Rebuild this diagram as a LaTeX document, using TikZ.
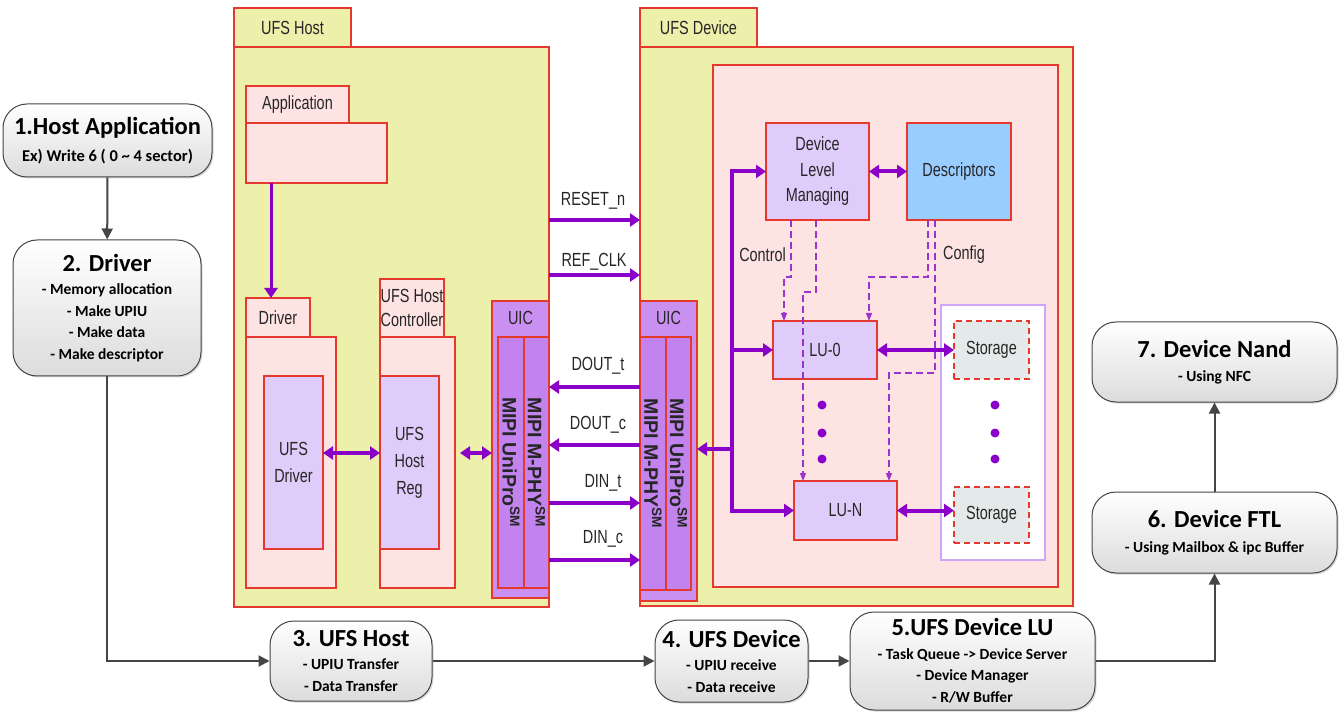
\documentclass[tikz,border=0pt]{standalone}
\usepackage{fontspec}
\setmainfont{Carlito}
\newfontfamily\nar[FakeStretch=0.76]{Liberation Sans}
\newfontfamily\widefam{Liberation Sans}
\usetikzlibrary{arrows.meta,shadows,calc}
\definecolor{ylw}{HTML}{EDF0AA}
\definecolor{rd}{HTML}{E4392C}
\definecolor{pnk}{HTML}{FDE3E1}
\definecolor{lpur}{HTML}{E0CCFA}
\definecolor{uicout}{HTML}{C990F2}
\definecolor{uicin}{HTML}{C283EE}
\definecolor{blu}{HTML}{99CCFF}
\definecolor{stg}{HTML}{E4EAE9}
\definecolor{arw}{HTML}{8A00C8}
\definecolor{dsh}{HTML}{9B33D0}
\definecolor{regb}{HTML}{CFA6F5}
\definecolor{txt}{HTML}{262626}
\definecolor{fgray}{HTML}{454545}
\definecolor{boxbot}{HTML}{DCDCDC}
\newcommand\dgmfont{\nar\fontsize{19}{26}\selectfont}
\newcommand\mipifont{\widefam\bfseries\fontsize{19.5}{19.5}\selectfont}
\newcommand\flowtitle{\bfseries\fontsize{24.5}{27}\selectfont}
\newcommand\flowsub{\bfseries\fontsize{15.5}{21.5}\selectfont}
\tikzset{
  fr/.style={draw=rd, line width=1.1pt, inner sep=0pt, outer sep=0pt, anchor=north west, font=\dgmfont, text=txt, align=center},
  stgs/.style={fill=stg, draw=rd, line width=1.5pt, dash pattern=on 6pt off 4pt},
  mipi/.style={rotate=-90, font=\mipifont, text=txt, inner sep=0pt},
  lbl/.style={font=\dgmfont, text=txt, inner sep=0pt},
  fbox/.style={draw=fgray, line width=1pt, rounded corners=24pt, top color=white, bottom color=boxbot,
    drop shadow={shadow xshift=1.5pt, shadow yshift=-1.5pt, opacity=0.3}, align=center, inner sep=0pt, font=\flowsub, text=black},
  parrow/.style={draw=arw, line width=4pt, -{Triangle[length=10pt,width=13pt]}},
  pline/.style={draw=arw, line width=4pt, line cap=rect},
  pdbl/.style={draw=arw, line width=4pt, {Triangle[length=10pt,width=13pt]}-{Triangle[length=10pt,width=13pt]}},
  dline/.style={draw=dsh, line width=1.3pt, dash pattern=on 7pt off 4pt, -{Triangle[length=8pt,width=6pt]}},
  farrow/.style={draw=fgray, line width=2pt, -{Triangle[length=11pt,width=11pt]}},
  dotn/.style={circle, fill=arw, inner sep=0pt, minimum size=9pt}
}
\begin{document}
\begin{tikzpicture}[x=1pt,y=-1pt]
\useasboundingbox (0,0) rectangle (1342,719);

% ---------- UFS Host ----------
\node[fr, fill=ylw, minimum width=315pt, minimum height=560pt] (hbody) at (234,47) {};
\node[fr, fill=ylw, minimum width=117pt, minimum height=39pt] (htab) at (234,8) {UFS Host};
\node[fr, fill=pnk, minimum width=103pt, minimum height=37pt] (apptab) at (246,86) {Application};
\node[fr, fill=pnk, minimum width=141pt, minimum height=60pt] (appbody) at (246,123) {};
\node[fr, fill=pnk, minimum width=64pt, minimum height=39pt] (drvtab) at (246,298) {Driver};
\node[fr, fill=pnk, minimum width=90pt, minimum height=251pt] (drvbody) at (246,337) {};
\node[fr, fill=lpur, minimum width=59pt, minimum height=173pt, font=\nar\fontsize{19}{27}\selectfont] (ufsdrv) at (264,376) {UFS\\Driver};
\node[fr, fill=pnk, minimum width=64pt, minimum height=58pt, font=\nar\fontsize{19}{24}\selectfont] (hctab) at (380,279) {UFS Host\\Controller};
\node[fr, fill=pnk, minimum width=75pt, minimum height=251pt] (hcbody) at (380,337) {};
\node[fr, fill=lpur, minimum width=59pt, minimum height=173pt, font=\nar\fontsize{19}{27}\selectfont] (hreg) at (380,376) {UFS\\Host\\Reg};
\node[fr, fill=uicout, minimum width=57pt, minimum height=297pt] (uich) at (492,301) {};
\node[lbl] (uichl) at (520.5,318) {UIC};
\node[fr, fill=uicin, minimum width=26pt, minimum height=251pt] (hc1) at (498,337) {};
\node[fr, fill=uicin, minimum width=25pt, minimum height=251pt] (hc2) at (524,337) {};
\node[mipi] (hc1t) at (hc1.center) {MIPI UniPro\textsuperscript{SM}};
\node[mipi] (hc2t) at (hc2.center) {MIPI M-PHY\textsuperscript{SM}};

% ---------- UFS Device ----------
\node[fr, fill=ylw, minimum width=433pt, minimum height=559pt] (dbody) at (640,47) {};
\node[fr, fill=ylw, minimum width=117pt, minimum height=39pt] (dtab) at (640,8) {UFS Device};
\node[fr, fill=pnk, minimum width=345pt, minimum height=522pt] (dinner) at (713,65) {};
\node[fr, fill=lpur, minimum width=103pt, minimum height=97pt, font=\nar\fontsize{19}{25.5}\selectfont] (dlm) at (766,123) {Device\\Level\\Managing};
\node[fr, fill=blu, minimum width=104pt, minimum height=97pt] (desc) at (907,123) {Descriptors};
\node[fr, draw=regb, fill=white, minimum width=104pt, minimum height=255pt] (streg) at (941,305) {};
\node[fr, fill=lpur, minimum width=104pt, minimum height=58pt] (lu0) at (773,321) {LU-0};
\node[fr, fill=lpur, minimum width=103pt, minimum height=59pt] (lun) at (794,481) {LU-N};
\node[fr, stgs, minimum width=75pt, minimum height=58pt] (st1) at (954,321) {Storage};
\node[fr, stgs, minimum width=75pt, minimum height=56pt] (st2) at (954,487) {Storage};
\node[fr, fill=uicout, minimum width=57pt, minimum height=300pt] (uicd) at (640,301) {};
\node[lbl] (uicdl) at (668.5,318) {UIC};
\node[fr, fill=uicin, minimum width=26pt, minimum height=253pt] (dc1) at (640,337) {};
\node[fr, fill=uicin, minimum width=25pt, minimum height=253pt] (dc2) at (666,337) {};
\node[mipi] (dc1t) at (dc1.center) {MIPI M-PHY\textsuperscript{SM}};
\node[mipi] (dc2t) at (dc2.center) {MIPI UniPro\textsuperscript{SM}};

% dots
\node[dotn] (da1) at (822,405) {};
\node[dotn] (da2) at (822,433) {};
\node[dotn] (da3) at (822,459) {};
\node[dotn] (db1) at (995,405) {};
\node[dotn] (db2) at (995,433) {};
\node[dotn] (db3) at (995,459) {};

% dashed control / config
\draw[dline] ([xshift=25pt]dlm.south west) -- ++(0,57) -- ++(-7,0) -- ([xshift=11pt]lu0.north west);
\draw[dline] ([xshift=50pt]dlm.south west) -- ++(0,72) -- ++(-13,0) -- ([xshift=9pt]lun.north west);
\draw[dline] ([xshift=21pt]desc.south west) -- ++(0,57) -- ++(-59,0) -- ([xshift=96pt]lu0.north west);
\draw[dline] ([xshift=28pt]desc.south west) -- ++(0,153) -- ++(-46,0) -- ([xshift=95pt]lun.north west);
\node[lbl, anchor=east] (ctl) at (786,255) {Control};
\node[lbl, anchor=west] (cfg) at (943,255) {Config};

% device bus
\coordinate (bt) at (732,171.5);
\coordinate (bb) at (732,510.5);
\coordinate (bm) at (732,449);
\draw[pline] (bt) -- (bb);
\draw[parrow] (bt) -- (dlm.west);
\draw[parrow] (bt |- lu0.west) -- (lu0.west);
\draw[parrow] (bb) -- (lun.west);
\draw[parrow] (bm) -- (uicd.east |- bm);
\draw[pdbl] (dlm) -- (desc);
\draw[pdbl] (lu0) -- (st1);
\draw[pdbl] (lun.east) -- (lun.east -| st2.west);

% host internal arrows
\coordinate (hy) at (0,453);
\draw[parrow, line width=3pt] ([xshift=25pt]appbody.south west) -- ([xshift=25pt]drvtab.north west);
\draw[pdbl] (ufsdrv.east |- hy) -- (hreg.west |- hy);
\draw[pdbl] ([xshift=5pt]hcbody.east |- hy) -- (uich.west |- hy);

% signals
\coordinate (yres) at (0,220);
\coordinate (yclk) at (0,275);
\coordinate (ydot) at (0,387);
\coordinate (ydoc) at (0,445);
\coordinate (ydit) at (0,503);
\coordinate (ydic) at (0,560);
\draw[parrow] (hbody.east |- yres) -- (dbody.west |- yres);
\draw[parrow] (hbody.east |- yclk) -- (dbody.west |- yclk);
\draw[parrow] (uicd.west |- ydot) -- (uich.east |- ydot);
\draw[parrow] (uicd.west |- ydoc) -- (uich.east |- ydoc);
\draw[parrow] (uich.east |- ydit) -- (uicd.west |- ydit);
\draw[parrow] (uich.east |- ydic) -- (uicd.west |- ydic);
\node[lbl] (lres) at (593,201) {RESET\_n};
\node[lbl] (lclk) at (594,262) {REF\_CLK};
\node[lbl] (ldot) at (598,366) {DOUT\_t};
\node[lbl] (ldoc) at (598,425) {DOUT\_c};
\node[lbl] (ldit) at (603,483) {DIN\_t};
\node[lbl] (ldic) at (603,539) {DIN\_c};

% ---------- flow boxes ----------
\node[fbox, minimum width=209pt, minimum height=73pt] (b1) at (107.5,140.5)
  {{\flowtitle 1.Host Application}\\[5pt]{\bfseries\fontsize{16.5}{21.5}\selectfont Ex) Write 6 ( 0 \textasciitilde{} 4 sector)}};
\node[fbox, minimum width=188pt, minimum height=136pt] (b2) at (107,308)
  {{\flowtitle 2. Driver}\\[2pt]- Memory allocation\\- Make UPIU\\- Make data\\- Make descriptor};
\node[fbox, minimum width=162pt, minimum height=80pt] (b3) at (351,661)
  {{\flowtitle 3. UFS Host}\\[2pt]- UPIU Transfer\\- Data Transfer};
\node[fbox, minimum width=153pt, minimum height=82pt] (b4) at (731.5,661)
  {{\flowtitle 4. UFS Device}\\[2pt]- UPIU receive\\- Data receive};
\node[fbox, minimum width=245pt, minimum height=98pt] (b5) at (972.5,661)
  {{\flowtitle 5.UFS Device LU}\\[2pt]- Task Queue -> Device Server\\- Device Manager\\- R/W Buffer};
\node[fbox, minimum width=245pt, minimum height=81pt] (b6) at (1214.5,532.5)
  {{\flowtitle 6. Device FTL}\\[3pt]- Using Mailbox \& ipc Buffer};
\node[fbox, minimum width=245pt, minimum height=80pt] (b7) at (1214.5,362)
  {{\flowtitle 7. Device Nand}\\[3pt]- Using NFC};

\draw[farrow] (b1) -- (b2);
\draw[farrow] (b2.south) |- (b3.west);
\draw[farrow] (b3) -- (b4);
\draw[farrow] (b4) -- (b5);
\draw[farrow] (b5.east) -| (b6.south);
\draw[farrow] (b6) -- (b7);
\end{tikzpicture}
\end{document}
